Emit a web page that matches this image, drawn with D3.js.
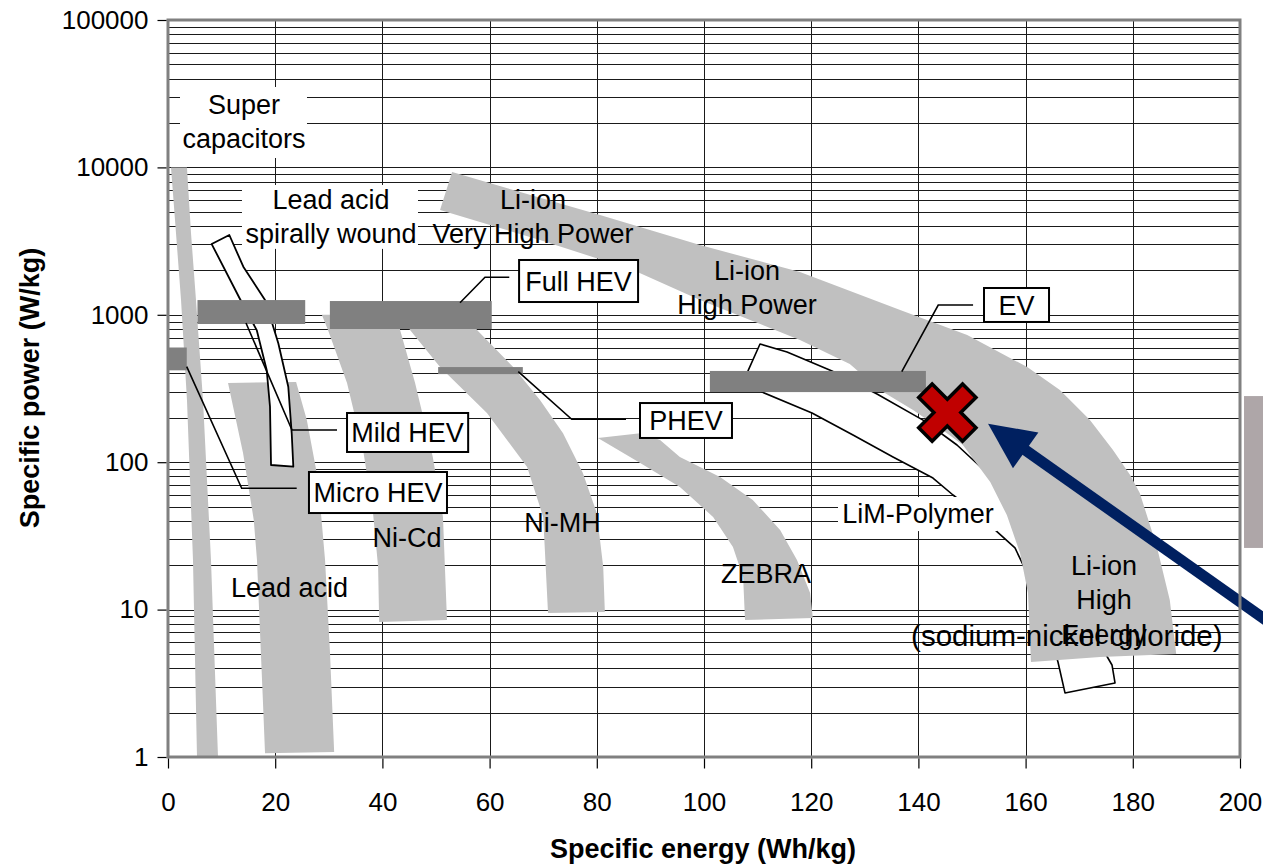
<!DOCTYPE html>
<html>
<head>
<meta charset="utf-8">
<script src="https://cdn.jsdelivr.net/npm/d3@7/dist/d3.min.js"></script>
<style>
  html, body { margin: 0; padding: 0; background: #fff; }
  svg { display: block; font-family: "Liberation Sans", Arial, Helvetica, sans-serif; }
</style>
</head>
<body>
<svg id="chart" width="1263" height="864"></svg>
<script>
// ---- Axis ticks ----
const energyTicks = [0, 20, 40, 60, 80, 100, 120, 140, 160, 180, 200];
const powerTicks = [1, 10, 100, 1000, 10000, 100000];

// ---- Technology regions: points are [specific energy (Wh/kg), specific power (W/kg)] ----
const superCapacitors = [
  [0.56, 10000], [1.49, 3590], [2.43, 1260], [3.54, 264], [4.66, 21.7], [5.41, 1],
  [9.33, 1], [8.02, 21.7], [6.53, 264], [5.22, 1260], [4.29, 3590], [3.54, 10000]
];
const leadAcid = [
  [11.2, 345], [14.0, 115.5], [16.0, 40.5], [16.6, 21.7], [17.7, 2.44], [18.1, 1.06],
  [31.0, 1.08], [30.2, 5.32], [29.3, 21.7], [28.0, 75.7], [25.9, 193], [23.9, 350]
];
const leadAcidSpiral = [
  [8.15, 3020], [13.43, 1280], [16.55, 788], [18.41, 422], [19.03, 238], [19.22, 95.7],
  [23.38, 93.2], [23.08, 157], [22.44, 325], [20.58, 641], [18.10, 1259], [14.05, 2120], [11.44, 3478]
];
const niCd = [
  [28.7, 1000], [29.85, 788], [33.4, 345], [36.4, 121], [38.25, 45.2], [39.2, 19.5], [39.4, 8.24],
  [52.05, 8.5], [51.3, 42.5], [49.4, 108.5], [46.1, 345], [43.3, 788], [42.9, 1000]
];
const niMh = [
  [43.7, 1000], [45.15, 788], [50.75, 442], [59.5, 216], [67.0, 92.8], [70.0, 42.5], [70.9, 9.48],
  [81.5, 9.63], [81.2, 19.45], [80.0, 45.2], [77.4, 84.5], [73.7, 157], [69.4, 264], [64.4, 442],
  [57.65, 788], [56.3, 1000]
];
const zebra = [
  [80.2, 146], [88.1, 98.8], [95.5, 67.9], [101.7, 42.5], [105.4, 26.6], [107.3, 16.6], [107.65, 8.5],
  [120.3, 8.77], [119.8, 12.96], [117.35, 21.7], [114.2, 34.7], [109.1, 55.4], [103.0, 79.4],
  [95.5, 108.5], [91.8, 141.4], [88.1, 157]
];
const liIon = [
  [53.0, 9307], [61.9, 7476], [80.6, 4755], [99.25, 2975], [117.9, 1951], [136.6, 1078],
  [149.1, 730], [160.3, 442], [166.4, 309], [172.0, 193], [176.3, 121], [179.5, 81.9],
  [181.3, 61.8], [184.5, 26.6], [186.9, 11.6], [188.1, 5.0], [173.9, 4.77], [161.0, 4.41],
  [160.45, 12.96], [158.96, 24.2], [156.5, 43.8], [153.4, 73.4], [148.3, 130.8], [145.0, 160.3],
  [139.0, 226], [132.8, 309], [127.2, 464], [117.9, 675], [108.6, 922], [99.25, 1259],
  [86.75, 2014], [69.4, 3217], [50.75, 5140]
];
const limPolymer = [
  [110.45, 634], [115.49, 559], [123.88, 416], [132.28, 290], [140.86, 193], [147.2, 130.8],
  [155.22, 70], [162.69, 27.4], [170.15, 9.94], [176.12, 4.21], [176.68, 3.18], [167.35, 2.72],
  [166.04, 4.41], [162.69, 11.6], [158.02, 26.2], [154.29, 34.7], [150.56, 45.9], [146.46, 59.9],
  [142.72, 78.1], [135.26, 108.5], [127.8, 153], [120.15, 215.7], [110.82, 299], [108.21, 416]
];

// ---- Vehicle requirement bars: energy range, power range ----
const vehicleBars = [
  { name: "Micro HEV", energy: [0, 3.5],     power: [420, 600] },
  { name: "Mild HEV",  energy: [5.5, 25.6],  power: [866, 1259] },
  { name: "Full HEV",  energy: [30.2, 60.4], power: [801, 1240] },
  { name: "PHEV",      energy: [50.4, 66.2], power: [396, 442] },
  { name: "EV",        energy: [101.1, 141.4], power: [299, 416] }
];

// ---- Callout boxes with their leader lines ----
const callouts = [
  { text: "Mild HEV",  box: [[33.4, 215.7], [56.0, 117.3]],
    leader: [[14.55, 880], [23.13, 165.4], [31.53, 165.4]] },
  { text: "Micro HEV", box: [[26.3, 85.8], [52.05, 45.2]],
    leader: [[3.49, 444.6], [13.75, 66.5], [24.01, 66.5]] },
  { text: "Full HEV",  box: [[65.5, 2354], [87.7, 1221]],
    leader: [[54.48, 1208], [59.14, 1797], [63.67, 1797]] },
  { text: "PHEV",      box: [[88.06, 252], [105.22, 146]],
    leader: [[65.35, 411], [75.32, 195.4], [85.45, 195.4]] },
  { text: "EV",        box: [[152.24, 1520], [164.37, 894]],
    leader: [[136.9, 411], [143.7, 1165], [150.2, 1165]] }
];

// ---- Region names ----
const regionLabels = [
  { lines: ["Super", "capacitors"], at: [14.18, 26920], knockout: [[2.24, 35120], [25.93, 11580]] },
  { lines: ["Lead acid", "spirally wound"], at: [30.41, 6104], knockout: [[13.8, 7600], [46.64, 2800]] },
  { lines: ["Li-ion", "Very High Power"], at: [68.1, 6104] },
  { lines: ["Li-ion", "High Power"], at: [108.02, 2014] },
  { lines: ["Lead acid"], at: [22.67, 14.23] },
  { lines: ["Ni-Cd"], at: [44.59, 31.1] },
  { lines: ["Ni-MH"], at: [73.6, 39.3] },
  { lines: ["ZEBRA"], at: [111.57, 17.7] },
  { lines: ["LiM-Polymer"], at: [139.93, 45.2], knockout: [[125.0, 58.05], [154.7, 34.1]] },
  { lines: ["Li-ion", "High", "Energy"], at: [174.63, 20.07] },
  { lines: ["(sodium-nickel chloride)"], at: [167.7, 6.73], big: true }
];

// ---- Highlighted cell and pointer ----
const highlightCell = [145.4, 217];
const pointerArrow = { from: [211.2, 5.84], to: [153.0, 182] };
const sideTab = [[200.75, 281], [204.3, 26.2]];

// ================= drawing =================
const svg = d3.select("#chart");
const x = d3.scaleLinear().domain([0, 200]).range([168, 1240]);
const y = d3.scaleLog().domain([1, 100000]).range([757, 20]);

const LIGHT = "#c0c0c0", DARK = "#808080", FRAME = "#808080";
const polyLine = d3.line().x(d => x(d[0])).y(d => y(d[1]));
const poly = pts => polyLine(pts) + "Z";

svg.append("rect").attr("width", 1263).attr("height", 864).attr("fill", "#fff");

// grid
const grid = svg.append("g").attr("shape-rendering", "crispEdges").attr("stroke", "#1a1a1a").attr("stroke-width", 1);
grid.selectAll("line.h").data(y.ticks().filter(v => v > 1 && v < 100000)).join("line")
  .attr("class", "h")
  .attr("x1", x(0)).attr("x2", x(200))
  .attr("y1", d => Math.round(y(d)) + 0.5).attr("y2", d => Math.round(y(d)) + 0.5);
grid.selectAll("line.v").data(energyTicks.filter(v => v > 0 && v < 200)).join("line")
  .attr("class", "v")
  .attr("y1", y(100000)).attr("y2", y(1))
  .attr("x1", d => Math.round(x(d)) + 0.5).attr("x2", d => Math.round(x(d)) + 0.5);

// LiM-Polymer outline (beneath the bands)
svg.append("path").attr("d", poly(limPolymer))
  .attr("fill", "#fff").attr("stroke", "#000").attr("stroke-width", 1.6).attr("stroke-linejoin", "round");

// light grey technology bands
const bands = [superCapacitors, leadAcid, niCd, niMh, zebra, liIon];
svg.append("g").selectAll("path").data(bands).join("path")
  .attr("d", poly).attr("fill", LIGHT);

// white knockouts behind some names
svg.append("g").selectAll("rect").data(regionLabels.filter(d => d.knockout)).join("rect")
  .attr("x", d => x(d.knockout[0][0])).attr("y", d => y(d.knockout[0][1]))
  .attr("width", d => x(d.knockout[1][0]) - x(d.knockout[0][0]))
  .attr("height", d => y(d.knockout[1][1]) - y(d.knockout[0][1]))
  .attr("fill", "#fff");

// spirally wound lead acid outline
svg.append("path").attr("d", poly(leadAcidSpiral))
  .attr("fill", "#fff").attr("stroke", "#000").attr("stroke-width", 1.8).attr("stroke-linejoin", "round");

// vehicle requirement bars
svg.append("g").selectAll("rect").data(vehicleBars).join("rect")
  .attr("x", d => x(d.energy[0])).attr("width", d => x(d.energy[1]) - x(d.energy[0]))
  .attr("y", d => y(d.power[1])).attr("height", d => y(d.power[0]) - y(d.power[1]))
  .attr("fill", DARK);

// leader lines
svg.append("g").selectAll("path").data(callouts).join("path")
  .attr("d", d => polyLine(d.leader))
  .attr("fill", "none").attr("stroke", "#000").attr("stroke-width", 1.6);

// callout boxes
const cg = svg.append("g").selectAll("g").data(callouts).join("g");
cg.append("rect")
  .attr("x", d => x(d.box[0][0])).attr("y", d => y(d.box[0][1]))
  .attr("width", d => x(d.box[1][0]) - x(d.box[0][0]))
  .attr("height", d => y(d.box[1][1]) - y(d.box[0][1]))
  .attr("fill", "#fff").attr("stroke", "#000").attr("stroke-width", 2);
cg.append("text")
  .attr("x", d => (x(d.box[0][0]) + x(d.box[1][0])) / 2)
  .attr("y", d => (y(d.box[0][1]) + y(d.box[1][1])) / 2)
  .attr("dy", "0.36em").attr("text-anchor", "middle")
  .attr("font-size", 27).attr("fill", "#000")
  .text(d => d.text);

// region names
const lg = svg.append("g").selectAll("text").data(regionLabels).join("text")
  .attr("text-anchor", "middle").attr("font-size", d => d.big ? 29.5 : 27).attr("fill", "#000")
  .attr("x", d => x(d.at[0])).attr("y", d => y(d.at[1]));
lg.selectAll("tspan").data(d => d.lines.map((t, i) => ({ t, i, d }))).join("tspan")
  .attr("x", o => x(o.d.at[0]))
  .attr("dy", o => o.i === 0 ? "0.36em" : "1.28em")
  .text(o => o.t);

// highlighted cell: red cross
const cx = x(highlightCell[0]), cy = y(highlightCell[1]);
const w = 9.5, L = 31;
const cross = [[w, w], [w, L], [-w, L], [-w, w], [-L, w], [-L, -w], [-w, -w], [-w, -L], [w, -L], [w, -w], [L, -w], [L, w]];
svg.append("path")
  .attr("d", d3.line()(cross) + "Z")
  .attr("transform", `translate(${cx},${cy}) rotate(45)`)
  .attr("fill", "#c00000").attr("stroke", "#000").attr("stroke-width", 3.5).attr("stroke-linejoin", "miter");

// pointer arrow
const ax0 = x(pointerArrow.from[0]), ay0 = y(pointerArrow.from[1]);
const ax1 = x(pointerArrow.to[0]), ay1 = y(pointerArrow.to[1]);
const ang = Math.atan2(ay1 - ay0, ax1 - ax0);
const headLen = 46, headHalf = 22;
const bx = ax1 - headLen * Math.cos(ang), by = ay1 - headLen * Math.sin(ang);
svg.append("line").attr("x1", ax0).attr("y1", ay0).attr("x2", bx + 4 * Math.cos(ang)).attr("y2", by + 4 * Math.sin(ang))
  .attr("stroke", "#002060").attr("stroke-width", 11);
svg.append("path")
  .attr("d", d3.line()([
    [ax1, ay1],
    [bx + headHalf * Math.sin(ang), by - headHalf * Math.cos(ang)],
    [bx - headHalf * Math.sin(ang), by + headHalf * Math.cos(ang)]
  ]) + "Z")
  .attr("fill", "#002060");

// side tab
svg.append("rect")
  .attr("x", x(sideTab[0][0])).attr("y", y(sideTab[0][1]))
  .attr("width", x(sideTab[1][0]) - x(sideTab[0][0]))
  .attr("height", y(sideTab[1][1]) - y(sideTab[0][1]))
  .attr("fill", "#aea6a8");

// plot frame
svg.append("rect")
  .attr("x", x(0)).attr("y", y(100000))
  .attr("width", x(200) - x(0)).attr("height", y(1) - y(100000))
  .attr("fill", "none").attr("stroke", FRAME).attr("stroke-width", 3);

// axes
const yAxis = d3.axisLeft(y).tickValues(powerTicks).tickFormat(d3.format("d")).tickSize(9).tickPadding(9);
const xAxis = d3.axisBottom(x).tickValues(energyTicks).tickFormat(d3.format("d")).tickSize(10).tickPadding(24);
const gy = svg.append("g").attr("transform", `translate(${x(0) - 1.5},0)`).call(yAxis);
const gx = svg.append("g").attr("transform", `translate(0,${y(1) + 1.5})`).call(xAxis);
[gx, gy].forEach(g => {
  g.select(".domain").remove();
  g.selectAll(".tick line").attr("stroke", "#000").attr("stroke-width", 1.2);
  g.selectAll(".tick text").attr("font-size", 26).attr("fill", "#000")
    .attr("font-family", "'Liberation Sans', Arial, sans-serif");
});

// axis titles
svg.append("text").attr("x", 703).attr("y", 858).attr("text-anchor", "middle")
  .attr("font-size", 27).attr("font-weight", "bold").attr("fill", "#000")
  .text("Specific energy (Wh/kg)");
svg.append("text").attr("transform", "translate(39,388) rotate(-90)").attr("text-anchor", "middle")
  .attr("font-size", 27).attr("font-weight", "bold").attr("fill", "#000")
  .text("Specific power (W/kg)");
</script>
</body>
</html>
